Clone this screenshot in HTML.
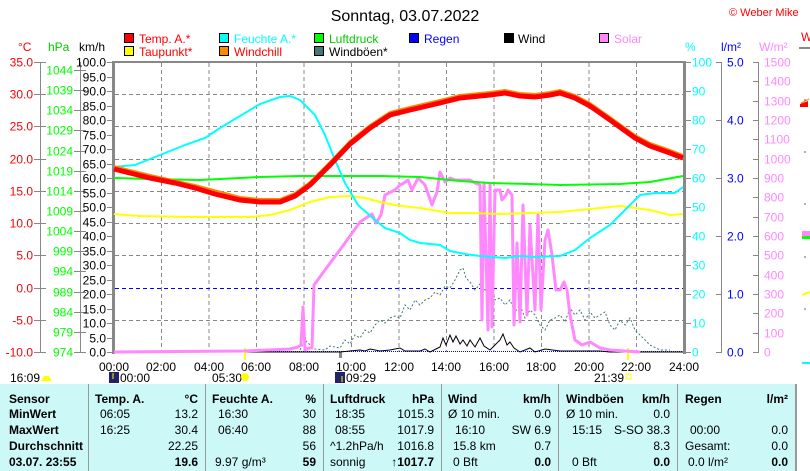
<!DOCTYPE html>
<html><head><meta charset="utf-8"><style>
body{margin:0;background:#fff;}
svg{display:block;font-family:"Liberation Sans",sans-serif;}
</style></head><body>
<svg width="810" height="471" viewBox="0 0 810 471" xmlns="http://www.w3.org/2000/svg">
<rect width="810" height="471" fill="#fff"/>
<text x="405" y="21" font-size="16" text-anchor="middle">Sonntag, 03.07.2022</text>
<text x="729" y="16" font-size="11" fill="#f00">© Weber Mike</text>
<text x="801" y="41" font-size="12" fill="#f00">W</text>
<rect x="799" y="47" width="11" height="2" fill="#888"/>
<g font-size="12">
<rect x="124.5" y="33.5" width="9" height="9" fill="#f00" stroke="#000"/><text x="139" y="43" fill="#f00">Temp. A.*</text>
<rect x="124.5" y="46.5" width="9" height="9" fill="#ff0" stroke="#000"/><text x="139" y="56" fill="#f00">Taupunkt*</text>
<rect x="219.5" y="33.5" width="9" height="9" fill="#0ff" stroke="#000"/><text x="234" y="43" fill="#0ff">Feuchte A.*</text>
<rect x="219.5" y="46.5" width="9" height="9" fill="#f80" stroke="#000"/><text x="234" y="56" fill="#f00">Windchill</text>
<rect x="314.5" y="33.5" width="9" height="9" fill="#0f0" stroke="#000"/><text x="329" y="43" fill="#0c0">Luftdruck</text>
<rect x="314.5" y="46.5" width="9" height="9" fill="#477" stroke="#000"/><text x="329" y="56">Windböen*</text>
<rect x="409.5" y="33.5" width="9" height="9" fill="#00f" stroke="#000"/><text x="424" y="43" fill="#00f">Regen</text>
<rect x="504.5" y="33.5" width="9" height="9" fill="#000" stroke="#000"/><text x="518" y="43">Wind</text>
<rect x="599.5" y="33.5" width="9" height="9" fill="#f8f" stroke="#000"/><text x="614" y="43" fill="#f8f">Solar</text>
</g>
<g font-size="12">
<text x="18" y="51" fill="#f00">°C</text>
<text x="48" y="51" fill="#0c0">hPa</text>
<text x="79" y="51">km/h</text>
<text x="685" y="51" fill="#0ff">%</text>
<text x="721" y="51" fill="#00f">l/m²</text>
<text x="759" y="51" fill="#f8f">W/m²</text>
</g>
<g id="axes" font-size="12" stroke-width="1"></g>
<!-- grid -->
<g stroke="#888" stroke-dasharray="4,3" fill="none">
<path d="M161.5 63V352M209 63V352M256.5 63V352M304 63V352M351.5 63V352M399 63V352M446.5 63V352M494 63V352M541.5 63V352M589 63V352M636.5 63V352"/>
<path d="M115 94.5H683M115 126.5H683M115 159.5H683M115 191.5H683M115 223.5H683M115 255.5H683M115 320.5H683"/>
</g>
<path d="M115 288.5H683" stroke="#00f" stroke-dasharray="4,3"/>
<path d="M115 351.5H683" stroke="#00f" stroke-dasharray="1,1"/>
<rect x="112" y="61" width="3" height="293" fill="#888"/>
<rect x="112" y="61" width="573" height="2" fill="#888"/>
<rect x="683" y="61" width="3" height="293" fill="#888"/>
<rect x="339" y="352" width="3" height="6" fill="#888"/>
<rect x="244" y="348" width="2" height="12" fill="#ff0"/>
<rect x="627" y="348" width="2" height="12" fill="#ff0"/>
<!-- windboeen -->
<polyline fill="none" stroke="#477" stroke-width="1" stroke-dasharray="2,2" points="300,350 305,340 310,345 315,349 325,350 330,346 340,348 345,340 350,344 355,335 360,338 365,330 370,333 375,325 380,320 385,323 390,318 395,316 400,318 405,305 410,310 415,300 420,305 425,300 430,298 435,292 440,295 445,286 450,288 455,280 460,270 463,268 466,278 470,282 475,290 480,284 485,290 490,280 495,300 500,298 505,305 510,300 515,312 520,305 525,318 530,310 535,315 540,325 545,330 550,320 555,318 560,315 565,322 570,308 575,315 580,310 585,320 590,312 595,318 600,315 605,312 610,325 615,330 620,320 625,325 630,318 635,330 640,335 645,340 650,345 660,350 670,350"/>
<!-- wind -->
<polyline fill="none" stroke="#000" stroke-width="1" points="115,352 340,352 350,351 360,350 365,351 370,349 380,351 390,350 400,348 405,351 420,351 425,349 430,352 440,347 443,338 446,345 450,335 453,342 456,336 460,344 463,340 467,346 470,340 475,347 480,338 484,346 490,350 500,340 503,334 507,345 510,342 514,348 520,352 530,348 535,352 545,349 560,351 600,351 610,352 683,352"/>
<!-- solar -->
<polyline fill="none" stroke="#f8f" stroke-width="3" stroke-linejoin="round" points="114,352 245,351 290,349 298,347 301,345 303,307 305,350 309,348 312,348 314,285 325,270 345,243 360,222 372,214 376,223 381,215 385,195 395,190 400,185 404,183 408,180 412,190 418,178 425,185 432,205 437,192 440,172 445,182 450,178 455,180 470,180 475,183 480,185 482,320 484,183 488,330 490,185 492,327 495,190 500,190 502,200 506,195 508,190 512,195 514,325 517,243 520,322 523,205 527,315 530,225 535,310 538,215 541,310 545,240 548,230 552,255 556,290 560,290 564,282 567,290 570,315 575,340 582,345 590,342 600,348 610,350 640,352"/>
<!-- dew point -->
<polyline fill="none" stroke="#ff0" stroke-width="2" points="114,214 140,216 190,217 250,217 270,215 290,210 310,202 330,197 350,196 365,198 380,202 395,205 410,207 420,208 450,213 470,213 500,214 530,213 560,212 600,208 620,206 650,210 670,215 683,214"/>
<!-- pressure -->
<polyline fill="none" stroke="#0f0" stroke-width="2" points="114,178 150,179 200,180 260,177 300,176 340,176 380,176 420,177 460,181 490,183 530,184 560,185 620,184 650,182 683,176"/>
<!-- humidity -->
<polyline fill="none" stroke="#0ff" stroke-width="2" points="114,167 135,165 160,155 185,145 205,138 220,128 240,116 260,104 280,97 290,96 300,100 315,115 325,135 335,160 345,183 358,205 375,220 385,228 400,233 410,240 420,243 430,244 440,245 450,251 465,254 480,256 505,258 520,256 535,257 560,256 575,250 590,238 610,225 625,210 640,195 655,193 675,193 683,187"/>
<!-- windchill + temp -->
<polyline fill="none" stroke="#f80" stroke-width="2" points="114,166 150,175 195,185 240,197 260,199 280,199 295,193 310,182 330,162 350,141 370,125 390,112 410,107 440,100 460,95 490,92 505,90 520,93 535,94 550,92 560,90 575,95 590,103 610,117 635,135 650,143 670,150 683,155"/>
<polyline fill="none" stroke="#f00" stroke-width="5" points="114,169 130,173 150,178 175,183 195,188 215,194 240,200 260,202 280,202 295,196 310,185 330,165 350,144 370,128 390,115 410,110 440,103 460,98 490,95 505,93 520,96 535,97 550,95 560,93 575,98 590,106 610,120 635,138 650,146 670,153 683,158"/>
<!-- clipped right bits -->
<path d="M800 104l8-3v6h-8z" fill="#f00"/><path d="M801 103l8-4" stroke="#f80"/>
<rect x="802" y="236" width="8" height="3" fill="#0f0"/><rect x="802" y="231" width="8" height="5" fill="#f8f"/>
<path d="M802 295l8-3" stroke="#ff0" stroke-width="2"/>
<rect x="802" y="362" width="8" height="2" fill="#0ff"/>
<g stroke="#666"><path d="M804 100h2M804 152h2M804 204h2M804 257h2M804 309h2"/></g>
<!-- bottom time labels -->
<g font-size="12" text-anchor="middle">
<text x="114" y="371">00:00</text><text x="161" y="371">02:00</text><text x="209" y="371">04:00</text><text x="256" y="371">06:00</text><text x="304" y="371">08:00</text><text x="351" y="371">10:00</text><text x="399" y="371">12:00</text><text x="446" y="371">14:00</text><text x="494" y="371">16:00</text><text x="541" y="371">18:00</text><text x="589" y="371">20:00</text><text x="636" y="371">22:00</text><text x="684" y="371">24:00</text>
</g>
<g font-size="12">
<text x="10" y="382">16:09</text><path d="M41 381l3-5h5l3 5z" fill="#ff0"/>
<rect x="109" y="372" width="10" height="11" fill="#226"/><path d="M113 373v6" stroke="#ff0"/>
<text x="120" y="382">00:00</text>
<text x="212" y="382">05:30</text><circle cx="245" cy="377" r="4" fill="#ff0"/>
<rect x="335" y="372" width="10" height="11" fill="#226"/><path d="M342 376v6" stroke="#ff0"/>
<text x="346" y="382">09:29</text>
<text x="594" y="382">21:39</text><rect x="626" y="374" width="5" height="5" fill="none" stroke="#ff0"/>
</g>
<!-- table -->
<rect x="0" y="384" width="796" height="87" fill="#ccf8f8"/>
<g fill="#999"><rect x="88" y="384" width="1" height="87"/><rect x="205" y="384" width="1" height="87"/><rect x="323" y="384" width="1" height="87"/><rect x="441" y="384" width="1" height="87"/><rect x="558" y="384" width="1" height="87"/><rect x="677" y="384" width="1" height="87"/><rect x="795" y="384" width="2" height="87"/></g>
<g font-size="12">
<g font-weight="bold"><text x="9" y="403">Sensor</text><text x="9" y="418">MinWert</text><text x="9" y="434">MaxWert</text><text x="9" y="450">Durchschnitt</text><text x="9" y="466">03.07. 23:55</text>
<text x="95" y="403">Temp. A.</text><text x="212" y="403">Feuchte A.</text><text x="330" y="403">Luftdruck</text><text x="448" y="403">Wind</text><text x="566" y="403">Windböen</text><text x="685" y="403">Regen</text></g>
<text x="100" y="418">06:05</text><text x="100" y="434">16:25</text>
<text x="218" y="418">16:30</text><text x="218" y="434">06:40</text><text x="215" y="466">9.97 g/m³</text>
<text x="335" y="418">18:35</text><text x="335" y="434">08:55</text><text x="330" y="450">^1.2hPa/h</text><text x="330" y="466">sonnig</text>
<text x="448" y="418">Ø 10 min.</text><text x="455" y="434">16:10</text><text x="453" y="450">15.8 km</text><text x="453" y="466">0 Bft</text>
<text x="566" y="418">Ø 10 min.</text><text x="572" y="434">15:15</text><text x="572" y="466">0 Bft</text>
<text x="690" y="434">00:00</text><text x="685" y="450">Gesamt:</text><text x="688" y="466">0.0 l/m²</text>
<g text-anchor="end">
<text x="198" y="403" font-weight="bold">°C</text><text x="198" y="418">13.2</text><text x="198" y="434">30.4</text><text x="198" y="450">22.25</text><text x="198" y="466" font-weight="bold">19.6</text>
<text x="316" y="403" font-weight="bold">%</text><text x="316" y="418">30</text><text x="316" y="434">88</text><text x="316" y="450">56</text><text x="316" y="466" font-weight="bold">59</text>
<text x="434" y="403" font-weight="bold">hPa</text><text x="434" y="418">1015.3</text><text x="434" y="434">1017.9</text><text x="434" y="450">1016.8</text><text x="434" y="466" font-weight="bold">↑1017.7</text>
<text x="551" y="403" font-weight="bold">km/h</text><text x="551" y="418">0.0</text><text x="551" y="434">SW 6.9</text><text x="551" y="450">0.7</text><text x="551" y="466" font-weight="bold">0.0</text>
<text x="670" y="403" font-weight="bold">km/h</text><text x="670" y="418">0.0</text><text x="670" y="434">S-SO 38.3</text><text x="670" y="450">8.3</text><text x="670" y="466" font-weight="bold">0.0</text>
<text x="788" y="403" font-weight="bold">l/m²</text><text x="788" y="434">0.0</text><text x="788" y="450">0.0</text><text x="788" y="466" font-weight="bold">0.0</text>
</g></g>
</svg>
<script>
(function(){
var g=document.getElementById('axes'),ns='http://www.w3.org/2000/svg',h='';
function ax(x,y0,y1,c){h+='<path d="M'+x+' '+y0+'V'+y1+'" stroke="#888"/>';}
function tk(x,y,dx,lab,c,anchor,tx){h+='<path d="M'+x+' '+y+'h'+dx+'" stroke="#888"/><text x="'+tx+'" y="'+(y+4)+'" fill="'+c+'" text-anchor="'+anchor+'">'+lab+'</text>';}
var i,y;
ax(40.5,62,352);for(i=0;i<=9;i++){y=62+i*290/9;tk(34,Math.round(y)+.5,12,(35-5*i).toFixed(1),'#f00','end',33);}
ax(80.5,62,352);for(i=0;i<=14;i++){y=352-i*290/14.4;tk(74,Math.round(y)+.5,12,974+5*i,'#0f0','end',73);}
for(i=0;i<=20;i++){y=62+i*14.5;tk(107,Math.round(y)+.5,5,(100-5*i).toFixed(1),'#000','end',106);}
for(i=0;i<=10;i++){y=62+i*29;tk(686,Math.round(y)+.5,5,100-10*i,'#0ff','start',692);}
ax(721.5,62,352);for(i=0;i<=5;i++){y=62+i*58;tk(716,Math.round(y)+.5,6,(5-i).toFixed(1),'#00f','start',727);}
ax(758.5,62,352);for(i=0;i<=15;i++){y=62+i*290/15;tk(753,Math.round(y)+.5,6,1500-100*i,'#f8f','start',764);}
g.innerHTML=h;
})();
</script>
</body></html>
